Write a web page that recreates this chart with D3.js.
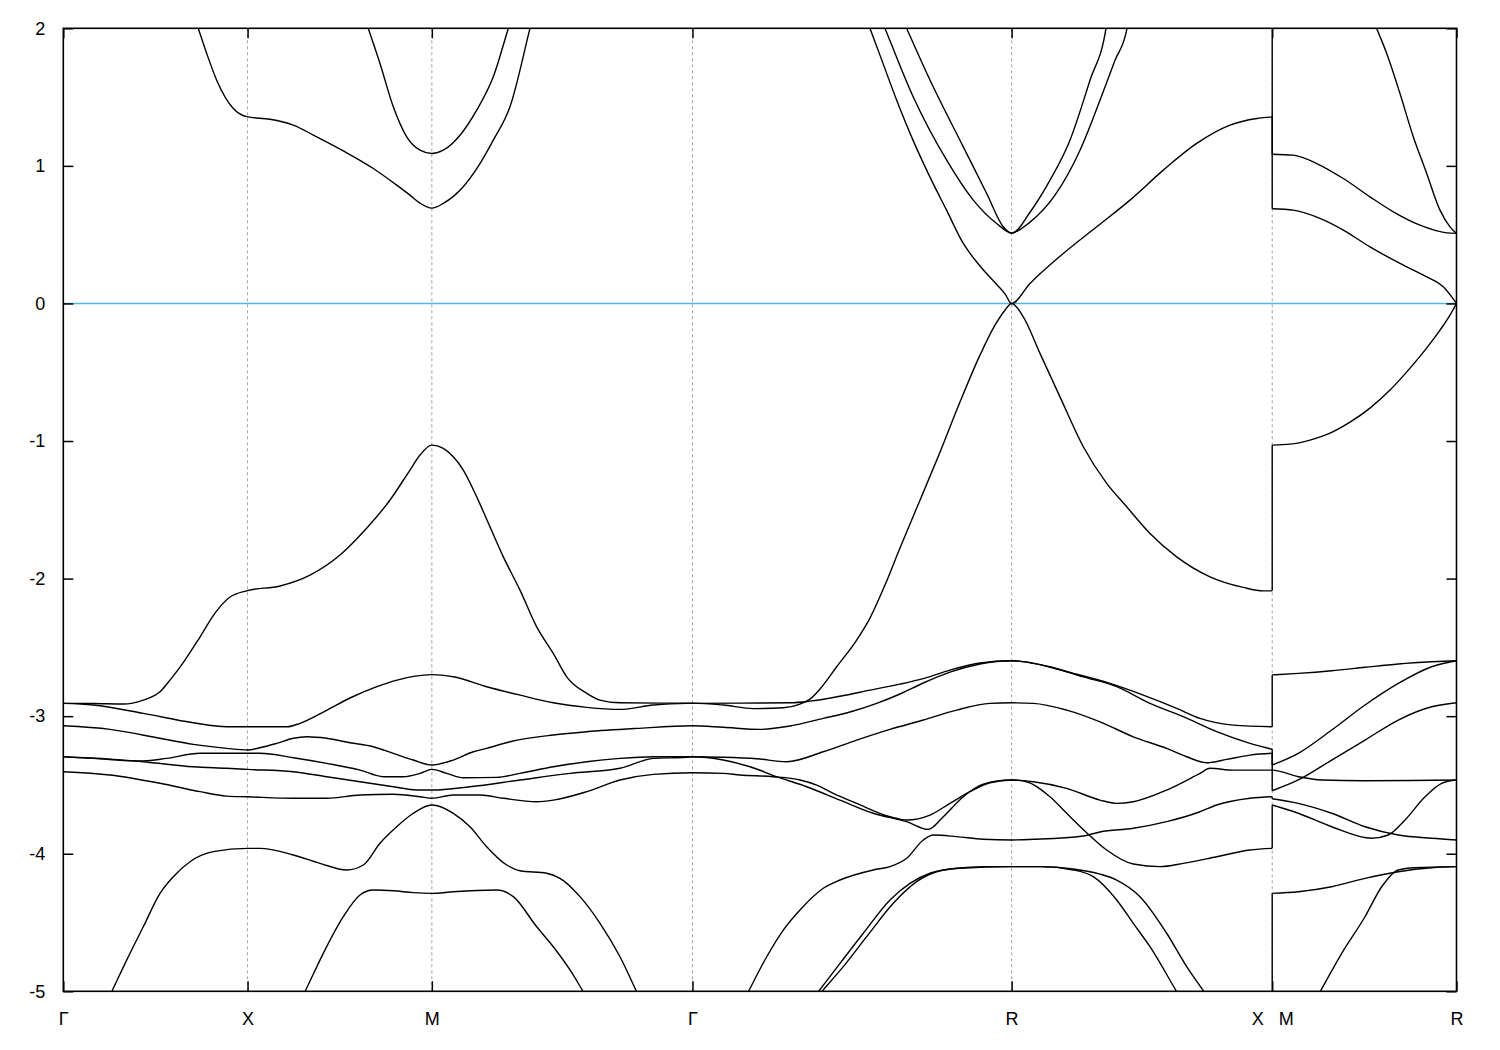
<!DOCTYPE html>
<html><head><meta charset="utf-8">
<script src="https://cdn.jsdelivr.net/npm/d3@7"></script>
<style>
body{margin:0;background:#fff}
text{font-family:"Liberation Sans",Arial,sans-serif;}
</style>
</head><body>
<svg id="chart" width="1500" height="1050"></svg>
<script>
// ---- data ----
const kTicks = [0, 0.5, 1.0, 1.70711, 2.57314, 3.28025, 3.78025];
const kLabels = ["Γ", "X", "M", "Γ", "R", "X   M", "R"];
const gridK = [0.5, 1.0, 1.70711, 2.57314, 3.28025];
const yTicks = [-5, -4, -3, -2, -1, 0, 1, 2];
const fermiLevel = 0;

const band01 = [[0.351,2.12],[0.3663,1.999],[0.3891,1.817],[0.4162,1.623],[0.4613,1.417],[0.5,1.356],[0.5608,1.339],[0.6241,1.296],[0.6783,1.224],[0.7597,1.109],[0.8411,0.981],[0.9046,0.860],[0.9407,0.787],[0.9679,0.729],[1.0,0.693],[1.0311,0.727],[1.0764,0.823],[1.1306,1.017],[1.1667,1.187],[1.2120,1.429],[1.2662,1.999],[1.2775,2.12],null,
 [2.1722,2.12],[2.1889,1.999],[2.2159,1.805],[2.2613,1.477],[2.3055,1.187],[2.3513,0.920],[2.3966,0.678],[2.4420,0.436],[2.4873,0.272],[2.5326,0.138],[2.5551,0.070],[2.5731,0.0],[2.6230,0.145],[2.7133,0.363],[2.8039,0.557],[2.8943,0.751],[2.9847,0.969],[3.0753,1.163],[3.1656,1.296],[3.2381,1.344],[3.2802,1.356],
 [3.2802,0.688],[3.3374,0.678],[3.4098,0.618],[3.4731,0.533],[3.5455,0.411],[3.6269,0.291],[3.6994,0.193],[3.7444,0.121],[3.7802,0.0]];
const band02 = [[0.8126,2.12],[0.8276,1.999],[0.8593,1.744],[0.8954,1.429],[0.9318,1.211],[0.9679,1.114],[1.0,1.090],[1.0311,1.114],[1.0764,1.223],[1.1217,1.405],[1.1667,1.647],[1.2074,1.999],[1.2214,2.12],null,
 [2.211,2.12],[2.2296,1.999],[2.3063,1.501],[2.3970,1.041],[2.4691,0.751],[2.5326,0.581],[2.5731,0.513],[2.6230,0.591],[2.6908,0.787],[2.7587,1.114],[2.8129,1.477],[2.8536,1.767],[2.8862,1.999],[2.8935,2.12],null,
 [3.2802,2.6],[3.2802,1.085],[3.3374,1.078],[3.4009,1.017],[3.4731,0.908],[3.5455,0.775],[3.6088,0.666],[3.6812,0.569],[3.7536,0.513],[3.7802,0.509]];
const band03 = [[2.268,2.12],[2.2884,1.999],[2.3516,1.624],[2.4420,1.138],[2.5055,0.799],[2.5505,0.557],[2.5731,0.509],[2.6230,0.663],[2.6773,0.896],[2.7315,1.187],[2.7858,1.623],[2.8292,1.999],[2.836,2.12],null,
 [3.5457,2.12],[3.5637,1.999],[3.5909,1.817],[3.6269,1.526],[3.6630,1.211],[3.6994,0.945],[3.7354,0.678],[3.7626,0.557],[3.7802,0.509]];
const band04 = [[0,-2.907],[0.0806,-2.908],[0.1628,-2.912],[0.2171,-2.883],[0.2624,-2.823],[0.2895,-2.738],[0.3302,-2.592],[0.3709,-2.425],[0.4116,-2.251],[0.4523,-2.134],[0.5,-2.087],
 [0.5880,-2.054],[0.6694,-1.975],[0.7508,-1.829],[0.8186,-1.647],[0.8865,-1.429],[0.9407,-1.211],[0.9679,-1.102],[1.0,-1.030],
 [1.0311,-1.054],[1.0582,-1.115],[1.0853,-1.211],[1.1217,-1.406],[1.1578,-1.624],[1.1939,-1.842],[1.2392,-2.084],[1.2845,-2.351],[1.3295,-2.544],[1.3659,-2.714],[1.4202,-2.834],[1.4562,-2.883],[1.5105,-2.903],[1.6190,-2.905],[1.70711,-2.905],
 [1.7908,-2.919],[1.8722,-2.945],[1.9536,-2.939],[1.9989,-2.912],[2.0260,-2.876],[2.0532,-2.803],[2.0985,-2.641],[2.1527,-2.447],[2.1888,-2.287],[2.2295,-2.047],[2.2702,-1.778],[2.3245,-1.430],[2.3788,-1.081],[2.4330,-0.717],[2.4873,-0.376],[2.5280,-0.158],[2.5551,-0.049],[2.5731,0.0],
 [2.6048,-0.097],[2.6501,-0.363],[2.7044,-0.679],[2.7676,-1.042],[2.8311,-1.308],[2.8853,-1.478],[2.9486,-1.672],[3.0210,-1.842],[3.1113,-1.987],[3.2017,-2.064],[3.2560,-2.089],[3.2802,-2.089],
 [3.2802,-1.030],[3.3285,-1.023],[3.3828,-0.993],[3.4370,-0.943],[3.4913,-0.863],[3.5455,-0.761],[3.5998,-0.630],[3.6541,-0.470],[3.6948,-0.339],[3.7355,-0.194],[3.7626,-0.085],[3.7802,0.0]];
const band05 = [[0,-2.907],[0.0814,-2.919],[0.2171,-2.980],[0.3527,-3.048],[0.4434,-3.077],[0.5,-3.077],[0.6070,-3.077],[0.6423,-3.052],[0.7155,-2.956],[0.7779,-2.868],[0.8403,-2.796],[0.9054,-2.738],[0.9543,-2.709],[1.0,-2.698],
 [1.0582,-2.714],[1.1488,-2.786],[1.2392,-2.847],[1.3295,-2.903],[1.4202,-2.936],[1.5105,-2.951],[1.6009,-2.919],[1.6915,-2.907],[1.70711,-2.907],
 [1.8361,-2.905],[1.9718,-2.903],[2.0260,-2.891],[2.1074,-2.855],[2.1888,-2.811],[2.2702,-2.767],[2.3380,-2.723],[2.4059,-2.665],[2.4873,-2.614],[2.5731,-2.597],
 [2.6319,-2.616],[2.7225,-2.677],[2.8400,-2.762],[2.9304,-2.847],[3.0210,-2.943],[3.0842,-3.016],[3.1746,-3.065],[3.2802,-3.077],
 [3.2802,-2.700],[3.3510,-2.689],[3.4416,-2.670],[3.5320,-2.645],[3.6224,-2.621],[3.7129,-2.605],[3.7802,-2.597]];
const band06 = [[0,-3.070],[0.1267,-3.096],[0.2624,-3.161],[0.3527,-3.205],[0.4434,-3.234],[0.5,-3.246],
 [0.5337,-3.230],[0.5790,-3.198],[0.6241,-3.161],[0.6604,-3.150],[0.7147,-3.161],[0.7779,-3.193],[0.8411,-3.222],[0.8954,-3.270],[0.9497,-3.319],[1.0,-3.355],
 [1.0582,-3.319],[1.1125,-3.259],[1.1488,-3.234],[1.2120,-3.186],[1.3295,-3.137],[1.4202,-3.113],[1.5558,-3.089],[1.70711,-3.070],
 [1.7908,-3.081],[1.8904,-3.096],[1.9718,-3.072],[2.0622,-3.016],[2.1346,-2.970],[2.2070,-2.907],[2.2702,-2.839],[2.3334,-2.759],[2.4059,-2.680],[2.4873,-2.621],[2.5731,-2.597],
 [2.6767,-2.641],[2.7676,-2.714],[2.8582,-2.786],[2.9486,-2.907],[3.0389,-3.004],[3.1296,-3.113],[3.2199,-3.198],[3.2802,-3.241],
 [3.2802,-3.355],[3.3510,-3.270],[3.4416,-3.101],[3.5320,-2.919],[3.6224,-2.762],[3.7129,-2.641],[3.7802,-2.597]];
const band07 = [[0,-3.295],[0.0814,-3.307],[0.2171,-3.326],[0.2806,-3.307],[0.3709,-3.270],[0.5,-3.270],
 [0.5337,-3.270],[0.6241,-3.302],[0.7147,-3.343],[0.8050,-3.392],[0.8683,-3.440],[0.9225,-3.440],[0.9679,-3.416],[1.0,-3.387],
 [1.0403,-3.416],[1.0853,-3.448],[1.1760,-3.445],[1.2392,-3.416],[1.3295,-3.368],[1.4202,-3.331],[1.5105,-3.307],[1.6009,-3.295],[1.70711,-3.295],
 [1.7908,-3.299],[1.8814,-3.310],[1.9628,-3.331],[2.0621,-3.259],[2.1527,-3.174],[2.2431,-3.096],[2.3335,-3.028],[2.4241,-2.956],[2.5144,-2.907],[2.5731,-2.903],
 [2.6319,-2.907],[2.7225,-2.956],[2.8129,-3.041],[2.9033,-3.150],[2.9939,-3.234],[3.0482,-3.295],[3.1024,-3.339],[3.1567,-3.314],[3.2199,-3.283],[3.2802,-3.270],
 [3.2802,-3.542],[3.3510,-3.464],[3.4416,-3.319],[3.5320,-3.174],[3.6224,-3.028],[3.7129,-2.932],[3.7802,-2.903]];
const band08 = [[0,-3.295],[0.1267,-3.312],[0.2171,-3.331],[0.3527,-3.368],[0.4434,-3.379],[0.5,-3.387],
 [0.6241,-3.404],[0.7147,-3.440],[0.8050,-3.477],[0.8954,-3.513],[0.9589,-3.537],[1.0,-3.537],
 [1.1035,-3.513],[1.2392,-3.464],[1.3749,-3.416],[1.5105,-3.379],[1.6009,-3.307],[1.6915,-3.299],[1.70711,-3.295],
 [1.7908,-3.319],[1.8632,-3.368],[1.9357,-3.440],[2.0171,-3.513],[2.1074,-3.610],[2.1978,-3.706],[2.2884,-3.767],[2.3470,-3.823],[2.3877,-3.731],[2.4420,-3.586],[2.4963,-3.494],[2.5731,-3.464],
 [2.6319,-3.477],[2.7225,-3.525],[2.8129,-3.610],[2.8582,-3.634],[2.9033,-3.622],[2.9939,-3.537],[3.0842,-3.416],[3.1113,-3.379],[3.1746,-3.392],[3.2802,-3.392],
 [3.3510,-3.440],[3.4145,-3.464],[3.5320,-3.469],[3.6541,-3.468],[3.7802,-3.464]];
const band09 = [[0,-3.404],[0.1267,-3.428],[0.2624,-3.488],[0.3709,-3.549],[0.4434,-3.581],[0.5,-3.586],
 [0.6241,-3.597],[0.7147,-3.597],[0.8050,-3.573],[0.8954,-3.568],[0.9679,-3.586],[1.0,-3.597],
 [1.0582,-3.573],[1.1306,-3.573],[1.1939,-3.597],[1.2845,-3.622],[1.3295,-3.610],[1.4202,-3.549],[1.5105,-3.464],[1.6009,-3.423],[1.70711,-3.411],
 [1.7908,-3.416],[1.8361,-3.428],[1.9265,-3.440],[1.9989,-3.464],[2.0442,-3.501],[2.0893,-3.561],[2.1527,-3.634],[2.2431,-3.731],[2.2884,-3.755],[2.3516,-3.719],[2.4059,-3.634],[2.4601,-3.549],[2.5144,-3.484],[2.5731,-3.464],
 [2.6141,-3.477],[2.6773,-3.586],[2.7225,-3.706],[2.7768,-3.847],[2.8311,-3.973],[2.9033,-4.075],[2.9757,-4.094],[3.0389,-4.070],[3.1296,-4.022],[3.2199,-3.973],[3.2802,-3.961],
 [3.2802,-3.646],[3.3510,-3.706],[3.4416,-3.804],[3.5501,-3.888],[3.5951,-3.864],[3.6405,-3.755],[3.6948,-3.586],[3.7400,-3.488],[3.7802,-3.464]];
const band10 = [[0.1100,-5.12],[0.1313,-5.003],[0.1720,-4.773],[0.2171,-4.531],[0.2624,-4.288],[0.2985,-4.167],[0.3438,-4.058],[0.4070,-3.985],[0.5,-3.961],
 [0.5337,-3.961],[0.6241,-4.009],[0.6965,-4.070],[0.7690,-4.118],[0.8140,-4.082],[0.8593,-3.924],[0.9046,-3.804],[0.9497,-3.706],[1.0,-3.646],
 [1.0582,-3.706],[1.1035,-3.804],[1.1488,-3.949],[1.2031,-4.082],[1.2392,-4.124],[1.3116,-4.142],[1.3477,-4.179],[1.4020,-4.312],[1.4563,-4.506],[1.5105,-4.749],[1.5558,-5.003],[1.5767,-5.12],null,
 [1.8358,-5.12],[1.8587,-5.003],[1.9086,-4.749],[1.9536,-4.555],[1.9989,-4.409],[2.0621,-4.251],[2.1074,-4.191],[2.1978,-4.118],[2.2431,-4.094],[2.2884,-4.033],[2.3335,-3.900],[2.3606,-3.864],[2.4241,-3.876],[2.4963,-3.895],[2.5731,-3.900],
 [2.6319,-3.895],[2.7676,-3.871],[2.8129,-3.842],[2.9033,-3.815],[2.9939,-3.767],[3.0842,-3.695],[3.1296,-3.646],[3.2199,-3.597],[3.2802,-3.586],
 [3.2802,-3.600],[3.3510,-3.634],[3.4416,-3.706],[3.5320,-3.804],[3.6224,-3.864],[3.7129,-3.888],[3.7802,-3.900]];
const band11 = [[0.635,-5.12],[0.6558,-5.003],[0.7055,-4.724],[0.7597,-4.458],[0.8050,-4.300],[0.8411,-4.264],[0.8954,-4.269],[0.9497,-4.283],[1.0,-4.288],
 [1.0582,-4.276],[1.1760,-4.264],[1.2210,-4.312],[1.2845,-4.531],[1.3295,-4.676],[1.3749,-4.845],[1.4109,-5.003],[1.4375,-5.12],null,
 [2.015,-5.12],[2.0486,-5.003],[2.1074,-4.797],[2.1707,-4.578],[2.2431,-4.336],[2.2973,-4.215],[2.3516,-4.142],[2.4241,-4.106],[2.4963,-4.094],[2.5731,-4.094],
 [2.6501,-4.094],[2.7404,-4.118],[2.7947,-4.167],[2.8582,-4.336],[2.9033,-4.506],[2.9486,-4.676],[3.0210,-5.003],[3.047,-5.12],null,
 [3.2802,-5.4],[3.2802,-4.288],[3.3510,-4.276],[3.4416,-4.240],[3.5320,-4.179],[3.6224,-4.131],[3.7129,-4.102],[3.7802,-4.094]];
const band12 = [[2.020,-5.12],[2.0577,-5.003],[2.1163,-4.821],[2.1798,-4.603],[2.2520,-4.360],[2.3155,-4.203],[2.3697,-4.131],[2.4330,-4.106],[2.5731,-4.094],
 [2.6501,-4.094],[2.7404,-4.111],[2.8129,-4.148],[2.8582,-4.191],[2.9215,-4.312],[2.9939,-4.578],[3.0482,-4.821],[3.0951,-5.003],[3.125,-5.12],null,
 [3.3858,-5.12],[3.4103,-5.003],[3.4688,-4.724],[3.5320,-4.458],[3.5773,-4.240],[3.6224,-4.118],[3.6677,-4.102],[3.7802,-4.094]];

const bands = [band01,band02,band03,band04,band05,band06,band07,band08,band09,band10,band11,band12];

// ---- layout ----
const svg = d3.select("#chart");
const pL = 63.3, pR = 1456.5, pT = 28.3, pB = 991.3;
const x = d3.scaleLinear().domain([0, 3.78025]).range([pL, pR]);
const y = d3.scaleLinear().domain([-5, 2]).range([pB, pT]);

svg.append("rect").attr("width",1500).attr("height",1050).attr("fill","#fff");

svg.append("defs").append("clipPath").attr("id","plotclip")
  .append("rect").attr("x",pL).attr("y",pT).attr("width",pR-pL).attr("height",pB-pT);

// grid (dashed vertical lines at high-symmetry points)
svg.append("g").selectAll("line").data(gridK).join("line")
  .attr("x1",d=>x(d)).attr("x2",d=>x(d)).attr("y1",pT).attr("y2",pB)
  .attr("stroke","#a0a0a0").attr("stroke-width",1).attr("stroke-dasharray","3,3");

// Fermi level
svg.append("line").attr("x1",pL).attr("x2",pR).attr("y1",y(fermiLevel)).attr("y2",y(fermiLevel))
  .attr("stroke","#56b4e9").attr("stroke-width",1.6);

// bands
const curveLine = d3.line().x(d=>x(d[0])).y(d=>y(d[1])).curve(d3.curveMonotoneX);
const straight = d3.line().x(d=>x(d[0])).y(d=>y(d[1]));
function pieces(pts){
  const out=[]; let cur=[];
  for(const p of pts){
    if(p===null){ if(cur.length>1) out.push({p:cur,c:true}); cur=[]; continue; }
    if(cur.length && cur[cur.length-1][0]===p[0]){
      const q=cur[cur.length-1];
      if(cur.length>1) out.push({p:cur,c:true});
      out.push({p:[q,p],c:false});
      cur=[p]; continue;
    }
    cur.push(p);
  }
  if(cur.length>1) out.push({p:cur,c:true});
  return out;
}
const gb = svg.append("g").attr("clip-path","url(#plotclip)");
bands.forEach(b=>{
  pieces(b).forEach(pc=>{
    gb.append("path").attr("d", pc.c ? curveLine(pc.p) : straight(pc.p))
      .attr("fill","none").attr("stroke","#000").attr("stroke-width",1.4)
      .attr("stroke-linejoin","round");
  });
});

// axes
const axL = d3.axisLeft(y).tickValues(yTicks).tickSizeInner(-10).tickSizeOuter(0).tickPadding(18).tickFormat(d=>String(d));
const axR = d3.axisRight(y).tickValues(yTicks).tickSizeInner(-10).tickSizeOuter(0).tickFormat("");
const axB = d3.axisBottom(x).tickValues(kTicks).tickSizeInner(-10).tickSizeOuter(0).tickPadding(21).tickFormat((d,i)=>kLabels[i]);
const axT = d3.axisTop(x).tickValues(kTicks).tickSizeInner(-10).tickSizeOuter(0).tickFormat("");

function styleAxis(g){
  g.select(".domain").remove();
  g.selectAll(".tick line").attr("stroke","#000").attr("stroke-width",1.5);
  g.selectAll(".tick text").attr("fill","#000").style("font-size","18px")
    .style("font-family","'Liberation Sans',Arial,sans-serif").style("white-space","pre");
}
svg.append("g").attr("transform",`translate(${pL},0)`).call(axL).call(styleAxis);
svg.append("g").attr("transform",`translate(${pR},0)`).call(axR).call(styleAxis);
svg.append("g").attr("transform",`translate(0,${pB})`).call(axB).call(styleAxis);
svg.append("g").attr("transform",`translate(0,${pT})`).call(axT).call(styleAxis);

// frame
svg.append("rect").attr("x",pL).attr("y",pT).attr("width",pR-pL).attr("height",pB-pT)
  .attr("fill","none").attr("stroke","#000").attr("stroke-width",1.6);
</script>
</body></html>
